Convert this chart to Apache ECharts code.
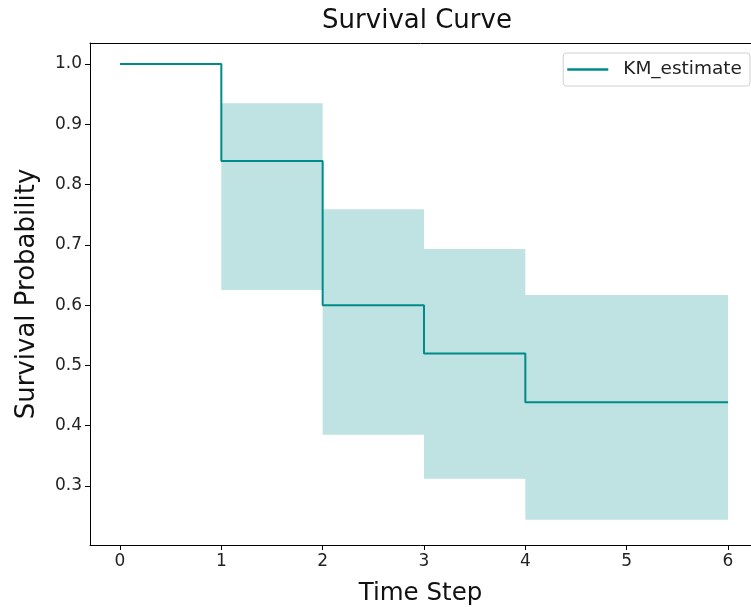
<!DOCTYPE html>
<html>
<head>
<meta charset="utf-8">
<script src="https://cdn.jsdelivr.net/npm/echarts@6/dist/echarts.min.js"></script>
<style>html,body{margin:0;padding:0;background:#fff;}#c{width:751px;height:607px;}</style>
</head>
<body>
<div id="c"></div>
<script>
// Kaplan-Meier estimate (step 'post')
const kmTimes = [0, 1, 2, 3, 4, 6];
const kmValues = [1.0, 0.839, 0.600, 0.520, 0.439, 0.439];
// confidence interval bands per interval [start, end]
const ciStart = [1, 2, 3, 4];
const ciEnd = [2, 3, 4, 6];
const ciLower = [0.625, 0.385, 0.312, 0.244];
const ciUpper = [0.935, 0.759, 0.693, 0.617];
const xTicks = [0, 1, 2, 3, 4, 5, 6];
const yTicks = [0.3, 0.4, 0.5, 0.6, 0.7, 0.8, 0.9, 1.0];

const font = 'DejaVu Sans';
const chart = echarts.init(document.getElementById('c'));
const bandData = ciStart.map((s, i) => [s, ciEnd[i], ciLower[i], ciUpper[i]]);
const kmData = kmTimes.map((t, i) => [t, kmValues[i]]);

chart.setOption({
  animation: false,
  textStyle: {fontFamily: font},
  title: {
    text: 'Survival Curve', left: 412, top: 3, textAlign: 'center',
    textStyle: {fontFamily: font, fontSize: 26, fontWeight: 'normal', color: '#111'}
  },
  legend: {
    right: 1, top: 53, orient: 'vertical',
    data: [{name: 'KM_estimate', icon: 'path://M0,0 L40,0 L40,2.5 L0,2.5 Z'}],
    itemWidth: 41, itemHeight: 3, itemGap: 10,
    padding: [7, 8, 7, 4],
    borderColor: '#d0d0d0', borderWidth: 1, borderRadius: 3,
    backgroundColor: '#fff',
    textStyle: {fontFamily: font, fontSize: 18.5, color: '#222', padding: [0, 0, 0, 10]}
  },
  grid: {
    left: 90, top: 43, right: 0, bottom: 62,
    show: false, containLabel: false, outerBoundsMode: 'none'
  },
  xAxis: [{
    type: 'value', min: -0.296, max: 6.227,
    name: 'Time Step', nameLocation: 'middle', nameGap: 36,
    nameTextStyle: {fontFamily: font, fontSize: 24.5, color: '#111'},
    axisLine: {show: true, onZero: false, lineStyle: {color: '#000', width: 1}},
    axisTick: {show: true, customValues: xTicks, length: 5, lineStyle: {color: '#000'}},
    axisLabel: {customValues: xTicks, fontFamily: font, fontSize: 17, color: '#222', margin: 8,
      formatter: v => String(v)},
    splitLine: {show: false}
  }, {
    type: 'value', position: 'top', min: -0.296, max: 6.227,
    axisLine: {show: true, onZero: false, lineStyle: {color: '#000', width: 1}},
    axisTick: {show: false}, axisLabel: {show: false}, splitLine: {show: false}
  }],
  yAxis: {
    type: 'value', min: 0.2022, max: 1.0348,
    name: 'Survival Probability', nameLocation: 'middle', nameGap: 50,
    nameTextStyle: {fontFamily: font, fontSize: 26, color: '#111'},
    axisLine: {show: true, onZero: false, lineStyle: {color: '#000', width: 1}},
    axisTick: {show: true, customValues: yTicks, length: 5, lineStyle: {color: '#000'}},
    axisLabel: {customValues: yTicks, fontFamily: font, fontSize: 17, color: '#222', margin: 8,
      formatter: v => v.toFixed(1)},
    splitLine: {show: false}
  },
  series: [
    {
      type: 'custom', name: 'CI', silent: true, z: 1,
      data: bandData,
      encode: {x: [0, 1], y: [2, 3]},
      renderItem: function (params, api) {
        const p0 = api.coord([api.value(0), api.value(3)]);
        const p1 = api.coord([api.value(1), api.value(2)]);
        return {
          type: 'rect',
          shape: {x: p0[0], y: p0[1], width: p1[0] - p0[0], height: p1[1] - p0[1]},
          style: {fill: 'rgba(0,139,139,0.25)'}
        };
      }
    },
    {
      type: 'line', name: 'KM_estimate', step: 'end', data: kmData,
      showSymbol: false, z: 3,
      lineStyle: {color: '#008b8b', width: 2},
      itemStyle: {color: '#008b8b'}
    }
  ]
});
</script>
</body>
</html>
